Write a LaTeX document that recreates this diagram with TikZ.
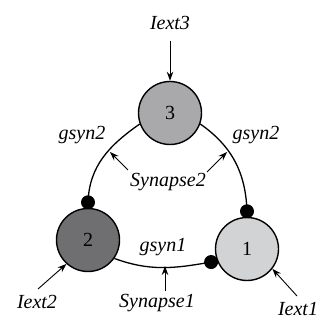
\documentclass[tikz,border=0pt]{standalone}
\usepackage{fontspec}
\setmainfont{Liberation Serif}
\usetikzlibrary{arrows.meta}
\definecolor{cone}{HTML}{D2D3D5}
\definecolor{ctwo}{HTML}{6F6F71}
\definecolor{cthree}{HTML}{A9A9AB}
\begin{document}
\begin{tikzpicture}[x=1pt,y=1pt,
  neuron/.style={circle,draw=black,line width=1.4pt,minimum size=63pt,inner sep=0pt,font=\fontsize{20}{22}\selectfont},
  dot/.style={circle,fill=black,minimum size=14pt,inner sep=0pt},
  lbl/.style={font=\fontsize{20}{22}\selectfont\itshape,inner sep=0pt},
  syn/.style={line width=1.3pt},
  inarrow/.style={line width=0.9pt,-{Stealth[length=9pt,width=6.5pt]}}]
\useasboundingbox (0,0) rectangle (320,320);
\node[neuron,fill=cthree] (n3) at (170,207) {3};
\node[neuron,fill=ctwo] (n2) at (88,80) {2};
\node[neuron,fill=cone] (n1) at (247,71) {1};
\node[dot] (d2) at ([yshift=5.5pt]n2.north) {};
\node[dot] (d1) at ([yshift=5.5pt]n1.north) {};
\node[dot] (d1b) at ([shift={(200:6pt)}]n1.200) {};
\draw[syn] (n3.200) to[out=215,in=88] (d2.center);
\draw[syn] (n3.-20) to[out=-35,in=92] (d1.center);
\draw[syn] (n2.-35) to[out=-20,in=190] (d1b.center);
\node[lbl] (i3) at (170,297) {Iext3};
\node[lbl] (i2) at (37,18) {Iext2};
\node[lbl] (i1) at (298,11) {Iext1};
\node[lbl] (s1) at (157,17) {Synapse1};
\node[lbl] (s2) at (168,138) {Synapse2};
\node[lbl] (g2l) at (82,185) {gsyn2};
\node[lbl] (g2r) at (256,185) {gsyn2};
\node[lbl] (g1) at (163,73) {gsyn1};
\coordinate (a3) at (170,279);
\coordinate (a2) at (38,31);
\coordinate (a1) at (297,24);
\coordinate (as1) at (165,29);
\coordinate (as2l) at (128,150);
\coordinate (as2r) at (207,148);
\coordinate (t1) at (165,54);
\coordinate (t2l) at (110,168);
\coordinate (t2r) at (227,168);
\draw[inarrow] (a3) -- (n3.north);
\draw[inarrow] (a2) -- (n2.228);
\draw[inarrow] (a1) -- (n1.-38);
\draw[inarrow] (as1) -- (t1);
\draw[inarrow] (as2l) -- (t2l);
\draw[inarrow] (as2r) -- (t2r);
\end{tikzpicture}
\end{document}
